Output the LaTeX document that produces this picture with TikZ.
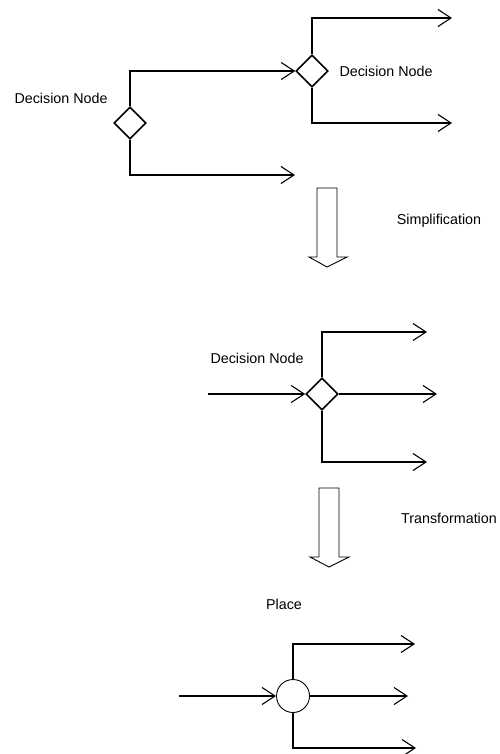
\documentclass[tikz,border=0pt]{standalone}
\usepackage{fontspec}
\setmainfont{Liberation Sans}
\usetikzlibrary{shapes.geometric,arrows.meta}
\begin{document}
\begin{tikzpicture}[x=1pt,y=-1pt,
  conn/.style={line width=1.1pt,-{Straight Barb[length=13pt,width=17pt,line width=1.1pt]}},
  decision/.style={draw,diamond,line width=1.6pt,minimum width=32pt,minimum height=32pt,inner sep=0pt},
  placenode/.style={draw,circle,line width=0.9pt,minimum size=33pt,inner sep=0pt},
  lbl/.style={font=\fontsize{14.3}{16}\selectfont,inner sep=0pt},
  bigarrow/.style={draw,line width=0.9pt,line join=miter}]
\useasboundingbox (0,0) rectangle (499,754);

% first stage: two cascaded decision nodes
\node[decision] (d1) at (130,123) {};
\node[decision] (d2) at (312,71) {};
\node[lbl] (l1) at (61,98) {Decision Node};
\node[lbl] (l2) at (386,71) {Decision Node};
\coordinate (e1) at (295,175);
\coordinate (e2) at (452,18);
\coordinate (e3) at (452,123);
\draw[conn] (d1.north) |- (d2.west);
\draw[conn] (d1.south) |- (e1);
\draw[conn] (d2.north) |- (e2);
\draw[conn] (d2.south) |- (e3);

% simplification step
\draw[bigarrow] (317,188) -- (337,188) -- (337,257) -- (347,257) -- (327,267)
  -- (309,257) -- (317,257) -- cycle;
\node[lbl] (s1) at (439,221) {Simplification};

% second stage: single decision node
\node[decision] (d3) at (322,394) {};
\node[lbl] (l3) at (257,358) {Decision Node};
\coordinate (i3) at (208,394);
\coordinate (f1) at (427,332);
\coordinate (f2) at (437,394);
\coordinate (f3) at (427,462);
\draw[conn] (i3) -- (d3.west);
\draw[conn] (d3.north) |- (f1);
\draw[conn] (d3.east) -- (f2);
\draw[conn] (d3.south) |- (f3);

% transformation step
\draw[bigarrow] (319,488) -- (339,488) -- (339,557) -- (349,557) -- (329,567)
  -- (310,557) -- (319,557) -- cycle;
\node[lbl] (s2) at (449,518) {Transformation};

% third stage: place
\node[placenode] (p) at (293,696) {};
\node[lbl] (l4) at (284,604) {Place};
\coordinate (i4) at (179,696);
\coordinate (g1) at (415,644);
\coordinate (g2) at (408,696);
\coordinate (g3) at (416,748);
\draw[conn] (i4) -- (p.west);
\draw[conn] (p.north) |- (g1);
\draw[conn] (p.east) -- (g2);
\draw[conn] (p.south) |- (g3);
\end{tikzpicture}
\end{document}
